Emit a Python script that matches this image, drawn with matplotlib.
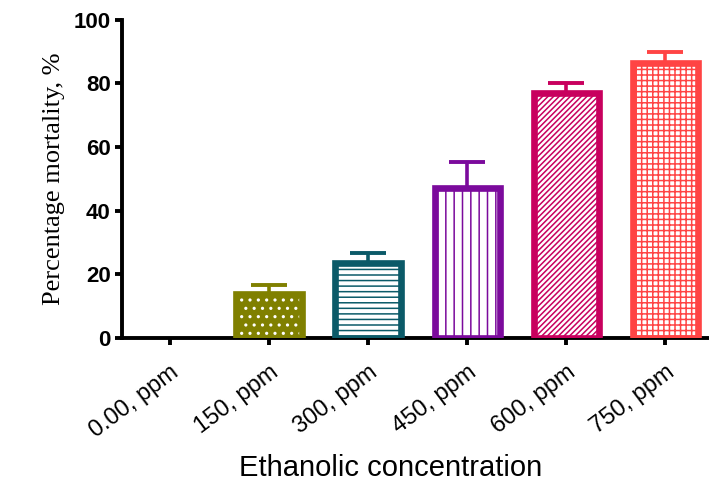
import numpy as np
import matplotlib
matplotlib.use("Agg")
import matplotlib.pyplot as plt

labels = ["0.00, ppm", "150, ppm", "300, ppm", "450, ppm", "600, ppm", "750, ppm"]
mortality = [0.0, 13.8, 23.5, 47.0, 77.0, 86.5]
sem = [0.0, 2.9, 3.3, 8.2, 3.2, 3.5]
colors = ["#000000", "#808000", "#0b5a68", "#7b0a9c", "#c8005e", "#ff4444"]
faces = ["white", "#808000", "white", "white", "white", "white"]
hatch_colors = ["white", "white", "#0b5a68", "#7b0a9c", "#c8005e", "#ff4444"]
hatches = ["", "..", "---", "||", "//////", "+++"]

plt.rcParams['font.family'] = ['Liberation Sans', 'DejaVu Sans']
plt.rcParams['hatch.linewidth'] = 1.1

fig = plt.figure(figsize=(7.09, 4.84), dpi=100)
ax = fig.add_axes([0.172, 0.302, 0.828, 0.657])

x = np.arange(len(labels))
width = 0.66

for i in range(len(labels)):
  if mortality[i] <= 0:
    continue
  ax.bar(x[i], mortality[i], width, color=faces[i], hatch=hatches[i],
         edgecolor=hatch_colors[i], linewidth=0, zorder=2)
  ax.bar(x[i], mortality[i], width, fill=False, edgecolor=colors[i],
         linewidth=4.8, zorder=3)
  ax.errorbar(x[i], mortality[i], yerr=[[0], [sem[i]]], fmt="none",
              ecolor=colors[i], elinewidth=2.6, capsize=13, capthick=2.8, zorder=1)

ax.set_xlim(-0.485, 5.44)
ax.set_ylim(0, 100)
ax.set_yticks([0, 20, 40, 60, 80, 100])
ax.set_xticks(x)
ax.set_xticklabels(labels, rotation=37, ha="right", rotation_mode="anchor")

for side in ["top", "right"]:
  ax.spines[side].set_visible(False)
for side in ["left", "bottom"]:
  ax.spines[side].set_linewidth(2.8)

ax.tick_params(axis="both", width=2.8, length=5)
ax.tick_params(axis="y", labelsize=16, pad=3)
ax.tick_params(axis="x", labelsize=17, pad=12)
for t in ax.get_yticklabels():
  t.set_fontweight("bold")

ax.set_ylabel("Percentage mortality, %", family=["Liberation Serif", "DejaVu Serif"],
              fontsize=19, labelpad=6)
ax.set_xlabel("Ethanolic concentration", fontsize=21)
ax.xaxis.set_label_coords(0.458, -0.365)

fig.savefig("out.png", dpi=100)
